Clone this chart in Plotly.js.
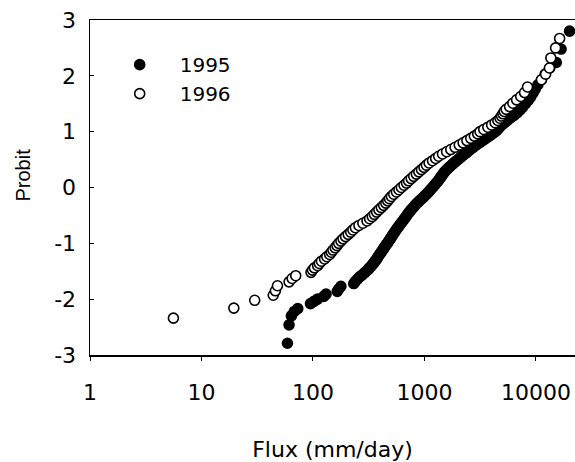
<!DOCTYPE html>
<html>
<head>
<meta charset="utf-8">
<script src="https://cdn.plot.ly/plotly-3.0.1.min.js"></script>
<style>
html,body{margin:0;padding:0;background:#fff;}
#chart{width:575px;height:462px;}
</style>
</head>
<body>
<div id="chart"></div>
<script>
// 1995 series (filled circles): flux (mm/day) and probit
var flux1995 = [59, 61, 64, 68, 73, 95, 102, 110, 125, 131, 165, 170, 178, 232, 240, 251, 262, 275, 290, 300,
  312, 320, 333, 340, 352, 360, 370, 378, 387, 395, 405, 415, 425, 433, 445, 455, 468, 478, 490, 500,
  512, 522, 535, 548, 560, 575, 590, 605, 622, 640, 655, 672, 690, 705, 725, 745, 765, 790, 815, 838,
  868, 900, 935, 970, 1005, 1040, 1075, 1110, 1145, 1180, 1215, 1250, 1290, 1325, 1360, 1395, 1430, 1465, 1500, 1545,
  1600, 1660, 1720, 1790, 1860, 1940, 2020, 2110, 2200, 2300, 2400, 2500, 2610, 2730, 2860, 3000, 3150, 3320, 3500, 3680,
  3860, 4050, 4250, 4420, 4580, 4750, 5000, 5300, 5600, 5950, 6350, 6800, 7200, 7600, 8050, 8500, 8950, 9400, 9850, 10400,
  11200, 12100, 13300, 15200, 16800, 20000];
var probit1995 = [-2.79, -2.46, -2.30, -2.22, -2.17, -2.08, -2.04, -2.00, -1.95, -1.91, -1.86, -1.82, -1.77, -1.72, -1.68, -1.64, -1.60, -1.57, -1.53, -1.50,
  -1.47, -1.44, -1.41, -1.38, -1.35, -1.32, -1.29, -1.26, -1.23, -1.20, -1.17, -1.14, -1.11, -1.08, -1.05, -1.02, -0.99, -0.96, -0.93, -0.90,
  -0.87, -0.84, -0.81, -0.78, -0.75, -0.72, -0.69, -0.66, -0.63, -0.60, -0.57, -0.54, -0.51, -0.48, -0.45, -0.42, -0.39, -0.36, -0.33, -0.30,
  -0.27, -0.24, -0.21, -0.18, -0.15, -0.12, -0.09, -0.06, -0.03, 0.00, 0.03, 0.06, 0.09, 0.12, 0.15, 0.18, 0.21, 0.24, 0.27, 0.30,
  0.33, 0.36, 0.39, 0.42, 0.45, 0.48, 0.51, 0.54, 0.57, 0.60, 0.63, 0.66, 0.69, 0.72, 0.75, 0.78, 0.81, 0.84, 0.87, 0.90,
  0.93, 0.96, 0.99, 1.02, 1.05, 1.09, 1.13, 1.17, 1.21, 1.25, 1.29, 1.34, 1.39, 1.44, 1.50, 1.56, 1.62, 1.69, 1.76, 1.84,
  1.93, 2.03, 2.14, 2.24, 2.48, 2.80];

// 1996 series (open circles): flux (mm/day) and probit
var flux1996 = [5.6, 19.5, 30, 44, 46, 48, 61, 65, 70, 96, 99, 103, 110, 114, 119, 127, 133, 141, 146, 151,
  158, 164, 170, 178, 186, 196, 207, 218, 228, 240, 258, 280, 305, 322, 340, 355, 372, 390, 410, 430,
  450, 468, 485, 505, 530, 560, 590, 620, 655, 690, 720, 760, 800, 845, 890, 940, 990, 1040, 1100, 1180,
  1260, 1340, 1450, 1580, 1720, 1880, 2050, 2220, 2400, 2600, 2800, 3000, 3150, 3400, 3700, 4000, 4300, 4550, 4750, 4900,
  5050, 5200, 5400, 5800, 6200, 6700, 7300, 7900, 8400, 11200, 12200, 13200, 13600, 15000, 16300];
var probit1996 = [-2.34, -2.16, -2.02, -1.93, -1.85, -1.76, -1.69, -1.63, -1.58, -1.52, -1.48, -1.44, -1.40, -1.36, -1.32, -1.28, -1.24, -1.20, -1.16, -1.12,
  -1.08, -1.04, -1.00, -0.96, -0.92, -0.88, -0.84, -0.80, -0.76, -0.72, -0.68, -0.64, -0.60, -0.56, -0.52, -0.48, -0.44, -0.40, -0.36, -0.32,
  -0.28, -0.24, -0.20, -0.16, -0.12, -0.08, -0.04, 0.00, 0.04, 0.08, 0.12, 0.16, 0.20, 0.24, 0.28, 0.32, 0.36, 0.40, 0.44, 0.48,
  0.52, 0.56, 0.60, 0.64, 0.68, 0.72, 0.76, 0.80, 0.84, 0.88, 0.92, 0.96, 1.00, 1.04, 1.08, 1.12, 1.16, 1.20, 1.24, 1.28,
  1.32, 1.36, 1.40, 1.45, 1.51, 1.57, 1.63, 1.70, 1.80, 1.93, 2.03, 2.14, 2.32, 2.50, 2.67];

var seriesNames = ['1995', '1996'];
var xTickVals = [1, 10, 100, 1000, 10000];
var xTickText = ['1', '10', '100', '1000', '10000'];
var yTickVals = [-3, -2, -1, 0, 1, 2, 3];
var yTickText = ['-3', '-2', '-1', '0', '1', '2', '3'];

var FONT = 'DejaVu Sans, Liberation Sans, Arial, sans-serif';
var FONT2 = 'Liberation Sans, Arial, Helvetica, sans-serif';

var traces = [
  {
    x: flux1995, y: probit1995, name: seriesNames[0], type: 'scatter', mode: 'markers',
    cliponaxis: false,
    marker: {symbol: 'circle', size: 10, color: '#000', line: {color: '#000', width: 1.6}}
  },
  {
    x: flux1996, y: probit1996, name: seriesNames[1], type: 'scatter', mode: 'markers',
    cliponaxis: false,
    marker: {symbol: 'circle', size: 10, color: '#fff', line: {color: '#000', width: 1.6}}
  }
];

var layout = {
  width: 575, height: 462,
  margin: {l: 90, r: 0, t: 20, b: 107, pad: 0},
  paper_bgcolor: '#fff', plot_bgcolor: '#fff',
  font: {family: FONT, size: 22, color: '#000'},
  showlegend: true,
  legend: {
    x: 0.02, y: 0.925, xanchor: 'left', yanchor: 'top',
    bgcolor: 'rgba(0,0,0,0)', borderwidth: 0,
    itemwidth: 70, font: {family: FONT, size: 20, color: '#000'}
  },
  xaxis: {
    type: 'log', range: [0, 4.35],
    tickvals: xTickVals, ticktext: xTickText,
    ticks: 'outside', ticklen: 4, tickwidth: 1, tickcolor: '#000',
    showline: true, linecolor: '#000', linewidth: 1.5, mirror: true,
    showgrid: false, zeroline: false,
    tickfont: {family: FONT, size: 22, color: '#000'},
    ticklabelstandoff: 13,
    title: {text: 'Flux (mm/day)', font: {family: FONT, size: 22, color: '#000'}, standoff: 40}
  },
  yaxis: {
    range: [-3, 3], tickvals: yTickVals, ticktext: yTickText,
    ticks: 'inside', ticklen: 4, tickwidth: 1, tickcolor: '#000',
    showline: true, linecolor: '#000', linewidth: 1.5, mirror: false,
    showgrid: false, zeroline: false,
    tickfont: {family: FONT, size: 22, color: '#000'},
    ticklabelstandoff: 8
  },
  annotations: [{
    text: 'Probit', textangle: -90, xref: 'paper', yref: 'paper',
    x: 0, y: 0.5, xanchor: 'center', yanchor: 'middle',
    xshift: -68, yshift: 12, showarrow: false,
    font: {family: FONT2, size: 20, color: '#000'}
  }]
};

Plotly.newPlot('chart', traces, layout, {staticPlot: true, displayModeBar: false});
</script>
</body>
</html>
